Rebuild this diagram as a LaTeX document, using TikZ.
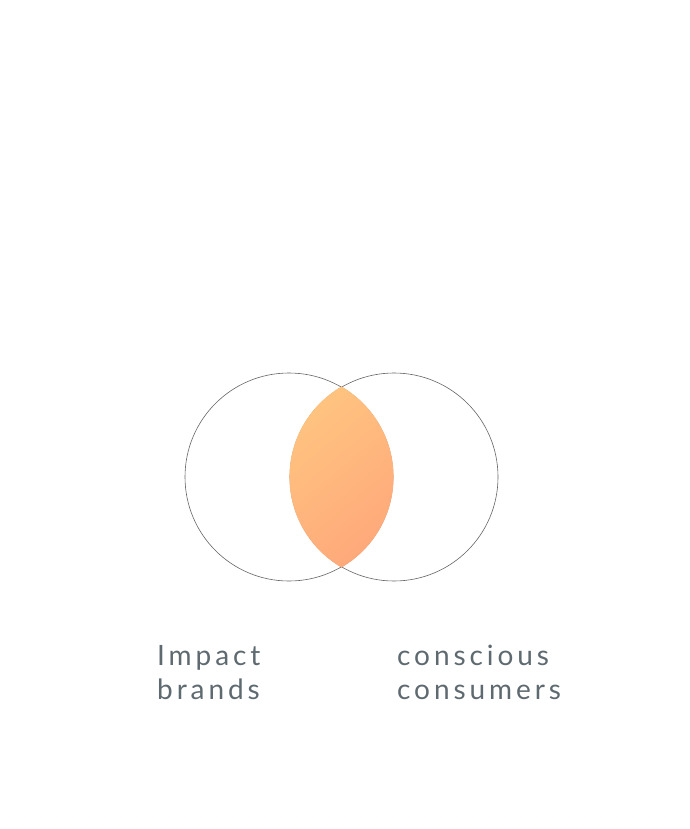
\documentclass[tikz,border=0pt]{standalone}
\usepackage{fontspec}
\setmainfont{Lato}
\newfontfamily\handfont[LetterSpace=14]{Lato}
\usetikzlibrary{positioning}
\definecolor{ringGray}{RGB}{100,100,100}
\definecolor{labelGray}{RGB}{94,106,112}
\definecolor{lensTop}{RGB}{255,198,128}
\definecolor{lensBottom}{RGB}{255,166,122}
\tikzset{
  ring/.style={draw=ringGray,line width=0.6pt},
  venn label/.style={anchor=base west,align=left,inner sep=0pt,text=labelGray,font=\handfont\fontsize{28}{34}\selectfont}
}
\begin{document}
\begin{tikzpicture}[x=1pt,y=-1pt]
  \useasboundingbox (0,0) rectangle (689,829);
  \coordinate (brandsc) at (289,477);
  \coordinate (consumersc) at (394,477);
  % the two sets
  \draw[ring] (brandsc) circle[radius=104];
  \draw[ring] (consumersc) circle[radius=104];
  % overlap
  \begin{scope}
    \clip (brandsc) circle[radius=104.6];
    \clip (consumersc) circle[radius=104.6];
    \shade[top color=lensTop,bottom color=lensBottom,shading angle=40] (280,370) rectangle (403,584);
  \end{scope}
  \node[venn label] (brands) at (157,699) {Impact\\brands};
  \node[venn label] (consumers) at (397,699) {conscious\\consumers};
\end{tikzpicture}
\end{document}
